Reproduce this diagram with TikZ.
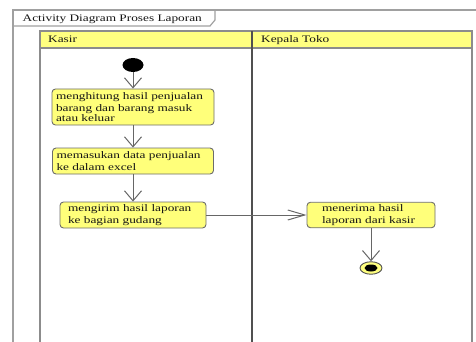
\documentclass[tikz,border=0pt]{standalone}
\usepackage{fontspec}
\setmainfont{Liberation Serif}[FakeStretch=1.33]
\usetikzlibrary{arrows.meta,shapes.geometric}
\definecolor{umlyellow}{HTML}{FFFF80}
\definecolor{actyellow}{HTML}{FFFF7A}
\definecolor{framegray}{HTML}{A0A0A0}
\definecolor{lanegray}{HTML}{8C8C8C}
\definecolor{divgray}{HTML}{505050}
\definecolor{flowgray}{HTML}{666666}
\definecolor{inkgray}{HTML}{151515}
\tikzset{
  umltext/.style={font=\fontsize{10}{9.4}\selectfont, text=inkgray},
  frameline/.style={draw=framegray, line width=1.2pt},
  laneline/.style={draw=lanegray, line width=1.1pt},
  divline/.style={draw=divgray, line width=1.2pt},
  act/.style={umltext, draw=gray!85!black, line width=0.9pt, fill=actyellow,
    rounded corners=3.5pt, align=left, inner ysep=0pt,
    execute at begin node={\vspace*{3pt}}},
  flow/.style={draw=flowgray, line width=1pt},
  vflow/.style={flow, -{Straight Barb[length=10pt,width=17pt,line width=1pt]}},
  hflow/.style={flow, -{Straight Barb[length=17pt,width=10pt,line width=1pt]}},
  startnode/.style={ellipse, fill=black, minimum width=21pt, minimum height=14pt, inner sep=0pt},
  endouter/.style={ellipse, draw=divgray, line width=0.9pt, fill=umlyellow, minimum width=22pt, minimum height=12.5pt, inner sep=0pt},
  endinner/.style={ellipse, fill=black, minimum width=13pt, minimum height=7pt, inner sep=0pt},
}
\begin{document}
\begin{tikzpicture}[x=1pt,y=-1pt]
\useasboundingbox (0,0) rectangle (476,342);
% diagram frame with its name tab
\draw[frameline] (13,342) -- (13,10) -- (476,10);
\draw[frameline] (13,26) -- (210,26) -- (215,20) -- (215,10);
\node[umltext, anchor=base west, inner sep=0pt] (title) at (22.5,22) {Activity Diagram Proses Laporan};
% swimlanes
\fill[umlyellow] (40,31) rectangle (472,48);
\draw[laneline] (40,342) -- (40,31) -- (472,31) -- (472,342);
\draw[laneline] (40,48) -- (472,48);
\draw[divline] (252,31) -- (252,342);
\node[umltext, anchor=base west, inner sep=0pt] (kasir) at (48,43) {Kasir};
\node[umltext, anchor=base west, inner sep=0pt] (kepala) at (261,43) {Kepala Toko};
% activities
\node[startnode] (start) at (133,65) {};
\node[act, text width=154pt, inner xsep=4pt, minimum height=36pt] (a1) at (133,107)
  {menghitung hasil penjualan\\barang dan barang masuk\\atau keluar};
\node[act, text width=153pt, inner xsep=4pt, minimum height=26pt] (a2) at (133,161)
  {memasukan data penjualan\\ke dalam excel};
\node[act, text width=130pt, inner xsep=8pt, minimum height=26pt] (a3) at (133,215)
  {mengirim hasil laporan\\ke bagian gudang};
\node[act, text width=98pt, inner xsep=15pt, minimum height=25.5pt] (a4) at (371,215)
  {menerima hasil\\laporan dari kasir};
\node[endouter] (finish) at (371,268) {};
\node[endinner] (finishdot) at (finish.center) {};
% control flows
\draw[vflow] (start) -- (a1);
\draw[vflow] (a1) -- (a2);
\draw[vflow] (a2) -- (a3);
\draw[hflow] (a3) -- (a4);
\draw[vflow] (a4) -- (finish);
\end{tikzpicture}
\end{document}
